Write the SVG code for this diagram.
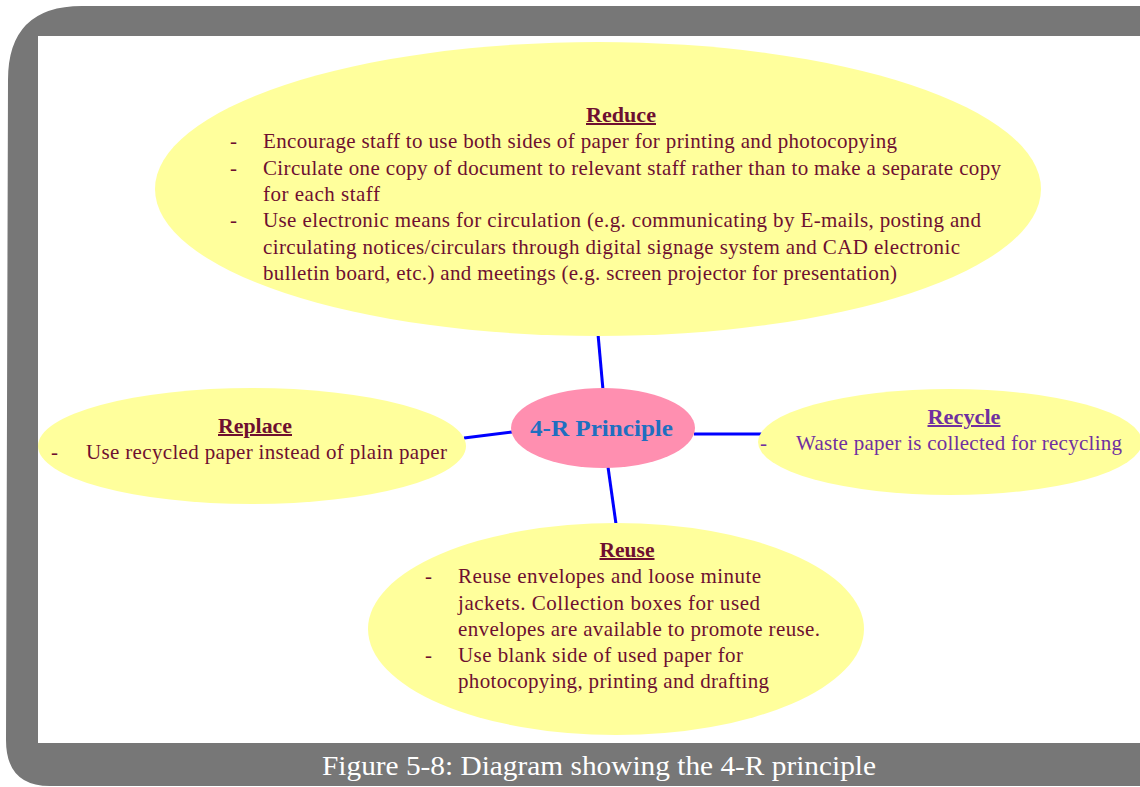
<svg xmlns="http://www.w3.org/2000/svg" width="1140" height="787" viewBox="0 0 1140 787">
<style>
.el{fill:#FFFF9C;}
.t{font-family:"Liberation Serif","Times New Roman",serif;font-size:21px;fill:#6E0F30;}
.p{fill:#7030A0;}
.h{font-weight:bold;text-decoration:underline;text-anchor:middle;font-size:20px;}
.con{stroke:#0000FF;stroke-width:3;fill:none;}
</style>
<path d="M1140,6 L82,6 Q8,6 8,80 L6,740 Q6,786 50,786 L1140,786 Z" fill="#777777"/>
<rect x="38" y="36" width="1102" height="707" fill="#FFFFFF"/>
<g id="connectors">
<line class="con" x1="598" y1="334" x2="603" y2="390"/>
<line class="con" x1="464" y1="438" x2="512" y2="432"/>
<line class="con" x1="694" y1="434" x2="767" y2="434"/>
<line class="con" x1="608" y1="467" x2="616" y2="524"/>
</g>
<g id="reduce">
<ellipse class="el" cx="598" cy="189" rx="443" ry="147"/>
<text class="t h" x="621" y="122" textLength="70" lengthAdjust="spacingAndGlyphs">Reduce</text>
<text class="t" x="230" y="148">-</text><text class="t" x="263" y="148" textLength="634" lengthAdjust="spacing">Encourage staff to use both sides of paper for printing and photocopying</text>
<text class="t" x="230" y="175">-</text><text class="t" x="263" y="175" textLength="738" lengthAdjust="spacing">Circulate one copy of document to relevant staff rather than to make a separate copy</text>
<text class="t" x="263" y="201" textLength="117" lengthAdjust="spacing">for each staff</text>
<text class="t" x="230" y="227">-</text><text class="t" x="263" y="227" textLength="718" lengthAdjust="spacing">Use electronic means for circulation (e.g. communicating by E-mails, posting and</text>
<text class="t" x="263" y="254" textLength="697" lengthAdjust="spacing">circulating notices/circulars through digital signage system and CAD electronic</text>
<text class="t" x="263" y="280" textLength="634" lengthAdjust="spacing">bulletin board, etc.) and meetings (e.g. screen projector for presentation)</text>
</g>
<g id="replace">
<ellipse class="el" cx="252" cy="446" rx="214" ry="58"/>
<text class="t h" x="255" y="433" textLength="74" lengthAdjust="spacingAndGlyphs">Replace</text>
<text class="t" x="51" y="459">-</text><text class="t" x="86" y="459" textLength="361" lengthAdjust="spacing">Use recycled paper instead of plain paper</text>
</g>
<g id="center">
<ellipse cx="603" cy="428" rx="92" ry="40" fill="#FF8FB0"/>
<text x="530" y="436" font-family="Liberation Serif, serif" font-weight="bold" font-size="24" fill="#1F6FC0" textLength="143" lengthAdjust="spacingAndGlyphs">4-R Principle</text>
</g>
<g id="recycle">
<ellipse class="el" cx="950" cy="442" rx="192" ry="53"/>
<text class="t p h" x="964" y="424" textLength="73" lengthAdjust="spacingAndGlyphs">Recycle</text>
<text class="t p" x="760" y="450">-</text><text class="t p" x="796" y="450" textLength="326" lengthAdjust="spacing">Waste paper is collected for recycling</text>
</g>
<g id="reuse">
<ellipse class="el" cx="616" cy="629" rx="248" ry="106"/>
<text class="t h" x="627" y="557" textLength="55" lengthAdjust="spacingAndGlyphs">Reuse</text>
<text class="t" x="425" y="583">-</text><text class="t" x="458" y="583" textLength="303" lengthAdjust="spacing">Reuse envelopes and loose minute</text>
<text class="t" x="458" y="610" textLength="302" lengthAdjust="spacing">jackets.  Collection boxes for used</text>
<text class="t" x="458" y="636" textLength="362" lengthAdjust="spacing">envelopes are available to promote reuse.</text>
<text class="t" x="425" y="662">-</text><text class="t" x="458" y="662" textLength="285" lengthAdjust="spacing">Use blank side of used paper for</text>
<text class="t" x="458" y="688" textLength="311" lengthAdjust="spacing">photocopying, printing and drafting</text>
</g>
<text x="322" y="775" font-family="Liberation Serif, serif" font-size="27" fill="#FFFFFF" textLength="554" lengthAdjust="spacingAndGlyphs">Figure 5-8: Diagram showing the 4-R principle</text>
</svg>
